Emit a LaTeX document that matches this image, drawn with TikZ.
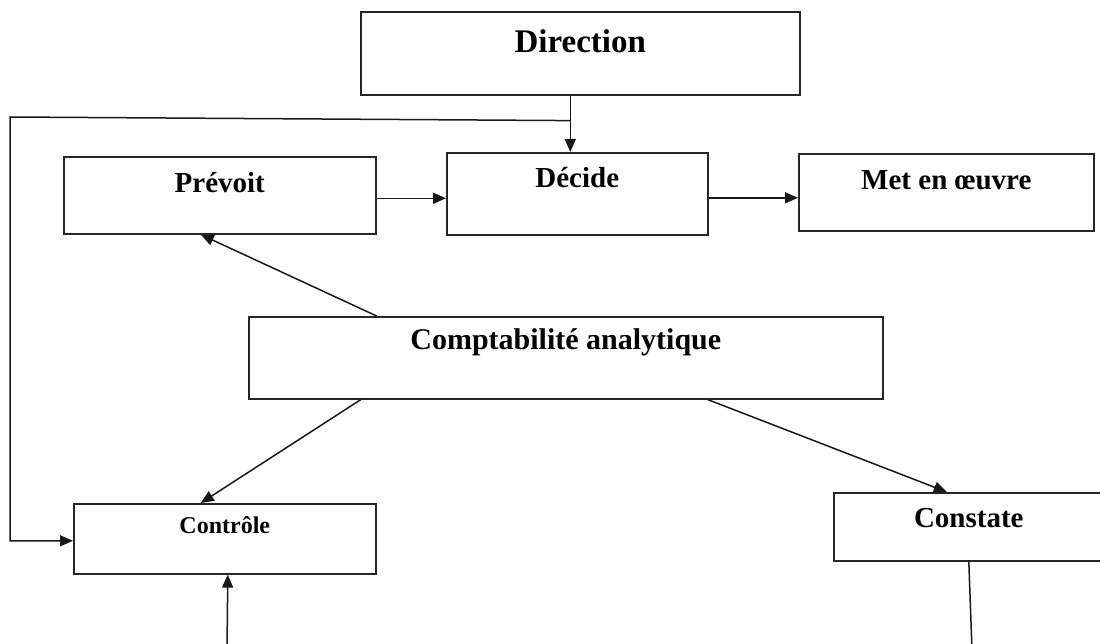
\documentclass[tikz,border=0pt]{standalone}
\usepackage{fontspec}
\setmainfont{Liberation Serif}
\usetikzlibrary{arrows.meta,calc}
\begin{document}
\begin{tikzpicture}[x=1pt,y=-1pt,
  box/.style={draw=black!85, line width=1.6pt, inner sep=0pt, anchor=north west,
    font=\bfseries\fontsize{29}{29}\selectfont},
  link/.style={draw=black!90, line width=1.5pt},
  arr/.style={link, -{Triangle[length=13pt,width=11pt]}}]
  \clip (0,0) rectangle (1100,644);
  \useasboundingbox (0,0) rectangle (1100,644);

  % boxes
  \node[box, minimum width=439pt, text height=41pt, text depth=42pt,
        font=\bfseries\fontsize{33}{33}\selectfont] (dir) at (360,11) {Direction};
  \node[box, minimum width=312pt, text height=36pt, text depth=41pt] (prv) at (63,156) {Prévoit};
  \node[box, minimum width=261pt, text height=35pt, text depth=47pt] (dec) at (446,152) {Décide};
  \node[box, minimum width=295pt, text height=36pt, text depth=41pt] (met) at (798,153) {Met en œuvre};
  \node[box, minimum width=634pt, text height=33pt, text depth=49pt,
        font=\bfseries\fontsize{30}{30}\selectfont] (cpt) at (248,316) {Comptabilité analytique};
  \node[box, minimum width=302pt, text height=30pt, text depth=40pt,
        font=\bfseries\fontsize{24}{24}\selectfont] (ctl) at (73,503) {Contrôle};
  \node[box, minimum width=270pt, text height=35pt, text depth=33pt] (cst) at (833,492) {Constate};

  % helper points
  \coordinate (j) at ($(dir.south)+(-10,25)$);
  \coordinate (tl) at (10,117);
  \coordinate (inctl) at (227,650);
  \coordinate (outcst) at (972,650);

  % Direction feeds Décide, and through the left loop Contrôle
  \draw[arr] ($(dir.south)+(-10,0)$) -- ($(dec.north)+(-7,0)$);
  \draw[arr] (j) -- (tl) |- ($(ctl.west)+(0,2)$);

  % top row
  \draw[arr] ($(prv.east)+(0,3)$) -- ($(dec.west |- prv.east)+(0,3)$);
  \draw[arr] ($(dec.east)+(0,4)$) -- ($(met.west |- dec.east)+(0,4)$);

  % from Comptabilité analytique
  \draw[arr] (cpt.north -| prv.east) -- ($(prv.south)+(-19,0)$);
  \draw[arr] ($(cpt.south)+(-205,0)$) -- ($(ctl.north)+(-24,0)$);
  \draw[arr] ($(cpt.south)+(142,0)$) -- ($(cst.north)+(-22,0)$);

  % lower connectors
  \draw[arr] (inctl) -- ($(ctl.south)+(3,0)$);
  \draw[link] (cst.south) -- (outcst);
\end{tikzpicture}
\end{document}
